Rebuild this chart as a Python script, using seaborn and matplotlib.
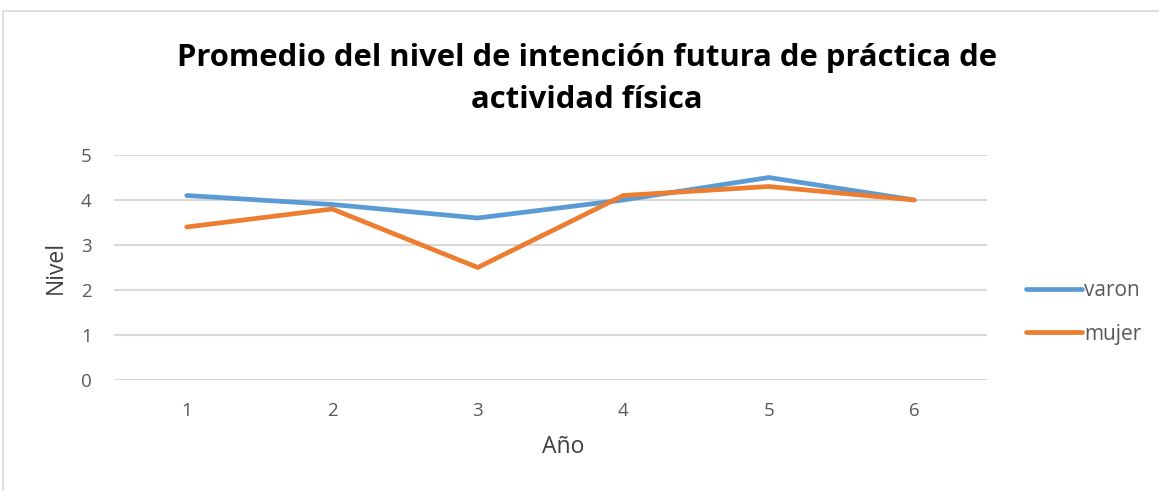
import matplotlib
matplotlib.use("Agg")
import matplotlib.pyplot as plt
import seaborn as sns
import pandas as pd
from matplotlib.patches import Rectangle

anios = [1, 2, 3, 4, 5, 6]
varon = [4.1, 3.9, 3.6, 4.0, 4.5, 4.0]
mujer = [3.4, 3.8, 2.5, 4.1, 4.3, 4.0]
series_names = ["varon", "mujer"]
y_ticks = [0, 1, 2, 3, 4, 5]

df = pd.DataFrame({
    "Año": anios * 2,
    "Nivel": varon + mujer,
    "serie": [series_names[0]] * len(anios) + [series_names[1]] * len(anios),
})

sns.set_theme(style="white")
plt.rcParams["font.family"] = ["Open Sans", "DejaVu Sans"]

W, H = 1159, 491
fig = plt.figure(figsize=(W / 100, H / 100), dpi=100)
ax = fig.add_axes([114 / W, 1 - 380 / H, (987 - 114) / W, (380 - 155) / H])

# outer frame
fig.patches.append(Rectangle((3 / W, -0.05), 1.2, 1 - 11 / H + 0.05,
                             transform=fig.transFigure, fill=False,
                             edgecolor="#D9D9D9", linewidth=1.2, zorder=0))

palette = {"varon": "#5B9BD5", "mujer": "#ED7D31"}
sns.lineplot(data=df, x="Año", y="Nivel", hue="serie", palette=palette,
             linewidth=3.4, ax=ax, legend=True, solid_capstyle="round")

ax.set_xlim(0.5, 6.5)
ax.set_ylim(0, 5)
ax.set_yticks(y_ticks)
ax.set_xticks(anios)
for y in y_ticks:
    ax.axhline(y, color="#D9D9D9", linewidth=1.5, zorder=0)
for s in ax.spines.values():
    s.set_visible(False)
ax.tick_params(axis="both", length=0, labelsize=13.5, labelcolor="#595959")
ax.tick_params(axis="x", pad=16)
ax.tick_params(axis="y", pad=16)

ax.set_xlabel("Año", fontsize=16.5, color="#404040")
ax.xaxis.label.set_va("center")
ax.xaxis.set_label_coords((563 - 114) / 873, (380 - 447) / 225)
ax.set_ylabel("Nivel", fontsize=16.5, color="#404040")
ax.yaxis.label.set_va("center")
ax.yaxis.set_label_coords((56 - 114) / 873, 0.5)

leg = ax.legend(loc="center left", bbox_to_anchor=(1026 / W, 1 - 312.5 / H),
                bbox_transform=fig.transFigure, frameon=False,
                fontsize=15, labelcolor="#595959", handlelength=2.7,
                handletextpad=0.1, labelspacing=1.07, borderpad=0,
                borderaxespad=0)
for h in leg.get_lines():
    h.set_linewidth(3.4)

fig.text(587 / W, 1 - 79 / H,
         "Promedio del nivel de intención futura de práctica de\nactividad física",
         ha="center", va="center", fontsize=22.3, fontweight="bold",
         color="black", linespacing=1.55)

fig.savefig("out.png", dpi=100, facecolor="white")
